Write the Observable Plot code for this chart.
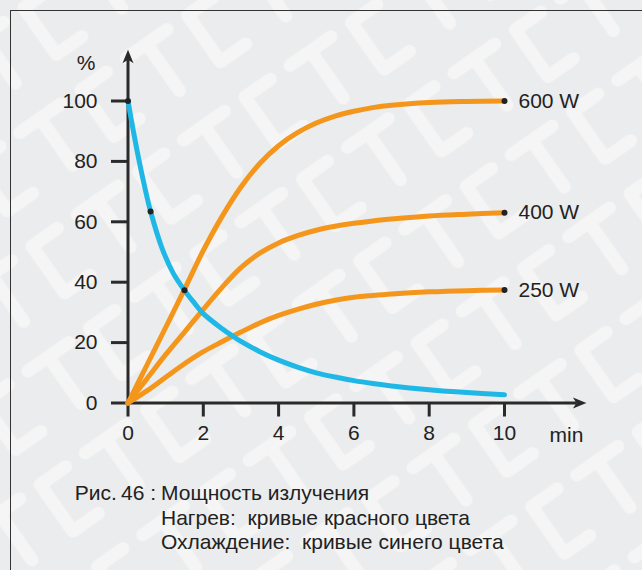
<!DOCTYPE html>
<html><head><meta charset="utf-8">
<script src="https://cdn.jsdelivr.net/npm/d3@7"></script>
<script src="https://cdn.jsdelivr.net/npm/@observablehq/plot@0.6"></script>
<style>
html,body{margin:0;padding:0;}
body{width:642px;height:570px;overflow:hidden;background:#ebeced;}
#wrap{position:relative;width:642px;height:570px;overflow:hidden;}
#bg{position:absolute;left:0;top:0;}
#frame{position:absolute;left:10px;top:10px;width:700px;height:700px;border-top:1.5px solid #333;border-left:1.5px solid #333;}
#chart{position:absolute;left:0;top:0;}
#caption{position:absolute;left:0;top:481.3px;width:642px;font:21px "Liberation Sans",Arial,sans-serif;color:#222;line-height:24.5px;}
#caption .l{position:absolute;right:486px;top:0;white-space:pre;}
#caption .r{position:absolute;left:161px;top:0;white-space:pre;}
</style></head>
<body><div id="wrap">
<svg id="bg" width="642" height="570">
<defs><pattern id="ct" width="130" height="100" patternUnits="userSpaceOnUse" patternTransform="rotate(-35)">
<g fill="none" stroke="#f5f5f5" stroke-width="13" stroke-linecap="round" stroke-linejoin="round">
<path d="M46,20 H15 V77 H46"/>
<path d="M70,20 H120 M95,20 V77"/>
</g></pattern></defs>
<rect width="642" height="570" fill="#ebeced"/>
<rect width="642" height="570" fill="url(#ct)"/>
</svg>
<div id="frame"></div>
<div id="chart"></div>
<div id="caption"></div>
</div>
<script>
// time (min) samples
const tHeat = [0, 0.5, 1, 1.5, 2, 2.5, 3, 3.5, 4, 4.5, 5, 5.5, 6, 6.5, 7, 8, 9, 10];
// heating curves (%)
const p600 = [0, 12.5, 25, 37.6, 50.5, 61.8, 71.5, 79.3, 85.2, 89.5, 92.7, 95, 96.6, 97.8, 98.6, 99.5, 99.85, 100];
const p400 = [0, 8, 16, 23.5, 31, 38.3, 44.8, 49.6, 53, 55.4, 57.2, 58.5, 59.5, 60.3, 60.9, 61.9, 62.5, 63];
const p250 = [0, 4, 8.5, 13, 17, 20.3, 23.5, 26.5, 29, 31, 32.7, 34, 35, 35.6, 36.1, 36.8, 37.2, 37.4];
// cooling curve
const tCool = [0, 0.15, 0.3, 0.45, 0.6, 0.9, 1.2, 1.5, 1.75, 2, 2.5, 2.8, 3, 3.5, 4, 4.5, 5, 5.5, 6, 6.5, 7, 8, 9, 10];
const pCool = [100, 89.5, 79.9, 71.2, 63.4, 51.4, 43, 37.3, 33.3, 29.6, 24.6, 22, 20.4, 17, 14.2, 11.9, 10, 8.6, 7.4, 6.45, 5.65, 4.4, 3.45, 2.7];
// marked points on cooling curve
const markT = [0, 0.6, 1.5];
const markV = [100, 63.4, 37.3];
// series labels
const seriesNames = ["600 W", "400 W", "250 W"];
const seriesEnds = [100, 63, 37.4];
// ticks
const xTicks = [0, 2, 4, 6, 8, 10];
const yTicks = [0, 20, 40, 60, 80, 100];
const xAxisEnd = 11.91, yAxisEnd = 113.7;
const captionLeft = "Рис.\u200946 :";
const captionLines = ["Мощность излучения", "Нагрев:  кривые красного цвета", "Охлаждение:  кривые синего цвета"];

const rows = (t, v) => t.map((x, i) => ({t: x, v: v[i]}));
const orange = "#f4961c", blue = "#1fb8e6", ink = "#2a2a2a";
const FS = 21;

// filled arrowhead symbol, notch at origin, tip pointing up
const arrowHead = {
  draw(ctx, size) {
    const s = Math.sqrt(size / Math.PI);
    ctx.moveTo(0, -s);
    ctx.lineTo(0.55 * s, 0.35 * s);
    ctx.lineTo(0, 0);
    ctx.lineTo(-0.55 * s, 0.35 * s);
    ctx.closePath();
  }
};

const chart = Plot.plot({
  width: 642, height: 470,
  marginLeft: 127.5, marginRight: 138, marginTop: 100.5, marginBottom: 67.5,
  x: {domain: [0, 10]}, y: {domain: [0, 100]},
  style: {fontFamily: "'Liberation Sans', Arial, sans-serif", background: "transparent", color: "#222", overflow: "visible"},
  marks: [
    Plot.axisY({ticks: yTicks, tickSize: 0, tickPadding: 30.5, fontSize: FS, fill: "#222", label: null}),
    Plot.axisX({ticks: xTicks, tickSize: 0, tickPadding: 22, fontSize: FS, fill: "#222", label: null}),
    Plot.ruleY(yTicks, {y: d => d, x1: 0, x2: 0, insetLeft: -16.5, stroke: ink, strokeWidth: 3}),
    Plot.ruleX(xTicks, {x: d => d, y1: 0, y2: 0, insetBottom: -14, stroke: ink, strokeWidth: 3}),
    Plot.link([null], {x1: 0, y1: 0, x2: xAxisEnd, y2: 0, stroke: ink, strokeWidth: 3}),
    Plot.link([null], {x1: 0, y1: 0, x2: 0, y2: yAxisEnd, stroke: ink, strokeWidth: 3}),
    Plot.dot([null], {x: xAxisEnd, y: 0, symbol: arrowHead, r: 10, fill: ink, stroke: null, rotate: 90}),
    Plot.dot([null], {x: 0, y: yAxisEnd, symbol: arrowHead, r: 10, fill: ink, stroke: null}),
    Plot.text(["%"], {frameAnchor: "top-left", dx: -42, dy: -38, fontSize: FS, fill: "#222", textAnchor: "middle", lineAnchor: "middle"}),
    Plot.text(["min"], {frameAnchor: "bottom-right", dx: 62, dy: 32, fontSize: FS, fill: "#222", textAnchor: "middle", lineAnchor: "middle"}),
    Plot.line(rows(tHeat, p600), {x: "t", y: "v", stroke: orange, strokeWidth: 5, curve: "catmull-rom"}),
    Plot.line(rows(tHeat, p400), {x: "t", y: "v", stroke: orange, strokeWidth: 5, curve: "catmull-rom"}),
    Plot.line(rows(tHeat, p250), {x: "t", y: "v", stroke: orange, strokeWidth: 5, curve: "catmull-rom"}),
    Plot.line(rows(tCool, pCool), {x: "t", y: "v", stroke: blue, strokeWidth: 5, curve: "catmull-rom"}),
    Plot.dot(seriesEnds, {x: () => 10, y: d => d, r: 3, fill: "#222"}),
    Plot.dot(rows(markT, markV), {x: "t", y: "v", r: 3, fill: "#222"}),
    Plot.text(seriesNames, {x: () => 10, y: (d, i) => seriesEnds[i], text: d => d, dx: 14, textAnchor: "start", fontSize: FS, fill: "#222"})
  ]
});
document.getElementById("chart").appendChild(chart);

const cap = document.getElementById("caption");
captionLines.forEach((s, i) => {
  const r = document.createElement("div");
  r.className = "r"; r.style.top = (i * 24.5) + "px"; r.textContent = s; cap.appendChild(r);
});
const l = document.createElement("div");
l.className = "l"; l.textContent = captionLeft; cap.appendChild(l);
</script>
</body></html>
